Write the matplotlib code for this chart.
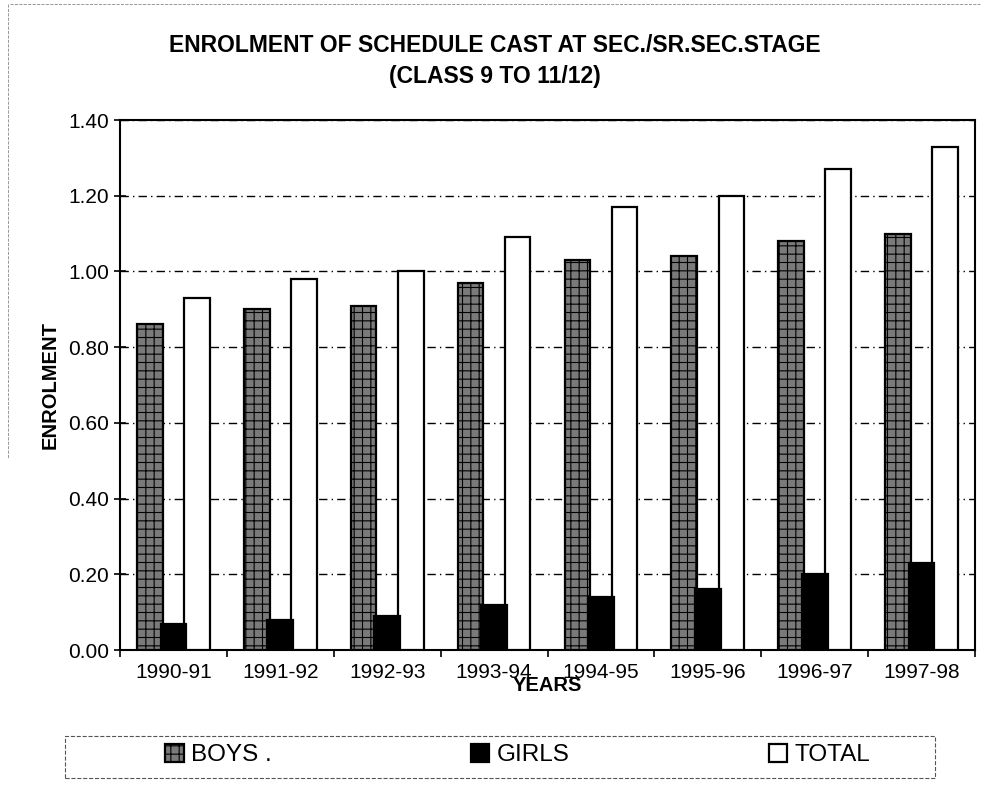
import matplotlib
matplotlib.use("Agg")
import matplotlib.pyplot as plt
from matplotlib.patches import Rectangle
import numpy as np

plt.rcParams['font.family'] = ['Liberation Sans', 'DejaVu Sans']
plt.rcParams['hatch.linewidth'] = 0.8

# data
years = ["1990-91", "1991-92", "1992-93", "1993-94",
         "1994-95", "1995-96", "1996-97", "1997-98"]
boys = [0.86, 0.90, 0.91, 0.97, 1.03, 1.04, 1.08, 1.10]
girls = [0.07, 0.08, 0.09, 0.12, 0.14, 0.16, 0.20, 0.23]
total = [0.93, 0.98, 1.00, 1.09, 1.17, 1.20, 1.27, 1.33]

fig = plt.figure(figsize=(9.9, 7.9), dpi=100)
ax = fig.add_axes([120 / 990, 1 - 650 / 790, 855 / 990, 530 / 790])

x = np.arange(len(years)) + 0.5
w = 0.24

ax.bar(x - 0.22, boys, w, color="#7a7a7a", edgecolor="black",
       hatch="++", linewidth=1.6, label="BOYS .", zorder=3)
ax.bar(x, girls, w, color="black", edgecolor="black",
       linewidth=1.6, label="GIRLS", zorder=4)
ax.bar(x + 0.22, total, w, color="white", edgecolor="black",
       linewidth=1.6, label="TOTAL", zorder=3)

ax.set_xlim(0, len(years))
ax.set_ylim(0, 1.40)
ax.set_yticks(np.arange(0, 1.41, 0.20))
ax.set_yticklabels([f"{v:.2f}" for v in np.arange(0, 1.41, 0.20)], fontsize=15)
ax.set_xticks(np.arange(0, len(years) + 1))
ax.set_xticklabels([])
ax.set_xticks(x, minor=True)
ax.set_xticklabels(years, minor=True, fontsize=15)
ax.tick_params(axis='x', which='minor', length=0, pad=9)
ax.tick_params(axis='x', which='major', direction='out', length=5, width=1.2)
ax.tick_params(axis='y', direction='inout', length=8, width=1.2, pad=4)

ax.grid(axis='y', linestyle=(0, (6, 3, 1, 3)), color='black', linewidth=1, zorder=0)
for s in ax.spines.values():
    s.set_linewidth(1.5)

ax.set_ylabel("ENROLMENT", fontsize=14.5, fontweight='bold', labelpad=6)
ax.set_xlabel("YEARS", fontsize=14.5, fontweight='bold', labelpad=-4)

fig.text(0.5, 1 - 45 / 790, "ENROLMENT OF SCHEDULE CAST AT SEC./SR.SEC.STAGE",
         ha='center', va='center', fontsize=16.5, fontweight='bold')
fig.text(0.5, 1 - 76 / 790, "(CLASS 9 TO 11/12)",
         ha='center', va='center', fontsize=16.5, fontweight='bold')

leg = ax.legend(loc='center', bbox_to_anchor=(0.523, 1 - 755 / 790),
                bbox_transform=fig.transFigure, ncol=3, frameon=False,
                fontsize=17.5, handlelength=0.75, handleheight=0.75,
                handletextpad=0.3, columnspacing=8.2)

# dashed frame around legend, and the faint page border from the scan
fig.patches.append(Rectangle((65 / 990, 1 - 778 / 790), 870 / 990, 42 / 790,
                             transform=fig.transFigure, fill=False,
                             linestyle='--', linewidth=0.8, edgecolor='#555555'))
fig.add_artist(plt.Line2D([0.01, 0.99], [0.995, 0.995], transform=fig.transFigure,
                          linestyle='--', linewidth=0.6, color='#888888'))
fig.add_artist(plt.Line2D([0.008, 0.008], [0.995, 0.42], transform=fig.transFigure,
                          linestyle='--', linewidth=0.6, color='#888888'))

fig.savefig("out.png", dpi=100)
